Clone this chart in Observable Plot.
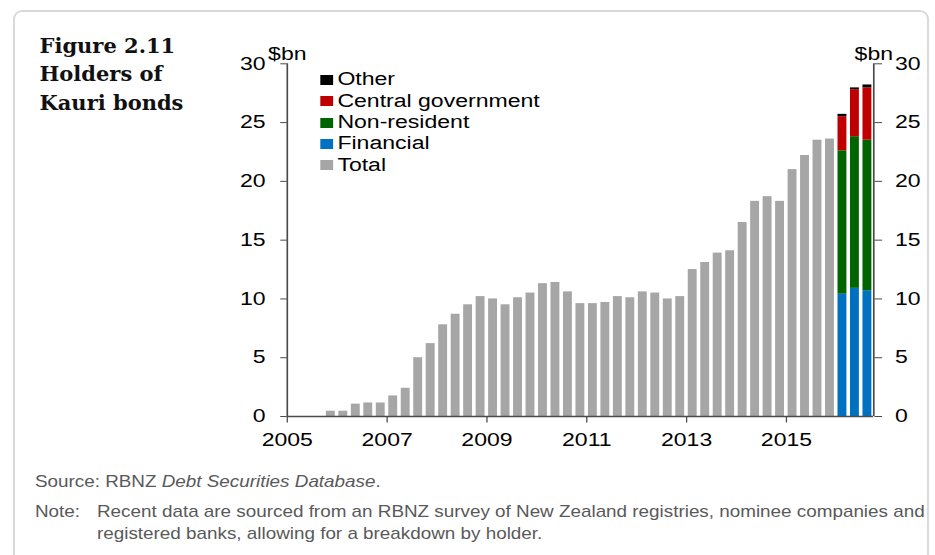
<!DOCTYPE html>
<html>
<head>
<meta charset="utf-8">
<script src="https://cdn.jsdelivr.net/npm/d3@7"></script>
<script src="https://cdn.jsdelivr.net/npm/@observablehq/plot@0.6"></script>
<style>
  html, body { margin: 0; padding: 0; background: #fff; }
  body { width: 935px; height: 555px; position: relative; overflow: hidden; font-family: "Liberation Sans", Arial, sans-serif; }
  #frame { position: absolute; left: 13px; top: 10px; width: 916px; height: 600px; border: 2px solid #d9d9d9; border-radius: 9px; box-sizing: border-box; }
  #title { position: absolute; left: 39.5px; top: 32px; font-family: "DejaVu Serif", serif; font-weight: bold; font-size: 21px; line-height: 28.3px; color: #111; }
  #chart { position: absolute; left: 200px; top: 0; width: 574px; transform: scaleX(1.28); transform-origin: 0 0; }
  #legend { position: absolute; left: 93.75px; top: 69.35px; font-size: 18px; color: #000; }
  #legend .row { display: flex; align-items: center; height: 21.3px; line-height: 21.3px; white-space: nowrap; }
  #legend .sw { width: 10.4px; height: 10px; margin-right: 3.2px; display: inline-block; }
  #notes { position: absolute; left: 35px; top: 0; width: 780px; height: 555px; transform: scaleX(1.15); transform-origin: 0 0; }
  .note { position: absolute; font-size: 16.4px; line-height: 22px; color: #595959; white-space: nowrap; }
</style>
</head>
<body>
<div id="frame"></div>
<div id="title">Figure 2.11<br>Holders of<br>Kauri bonds</div>
<div id="chart"><div id="legend"></div></div>
<div id="notes">
  <div class="note" style="left:0; top:469.6px;">Source:</div>
  <div class="note" style="left:61px; top:469.6px;">RBNZ <i>Debt Securities Database</i>.</div>
  <div class="note" style="left:0; top:499.6px;">Note:</div>
  <div class="note" style="left:53.9px; top:499.6px;">Recent data are sourced from an RBNZ survey of New Zealand registries, nominee companies and<br>registered banks, allowing for a breakdown by holder.</div>
</div>
<script>
// ---- Data ----
const totalQuarters = [
  "2005 Q4",
  "2006 Q1","2006 Q2","2006 Q3","2006 Q4",
  "2007 Q1","2007 Q2","2007 Q3","2007 Q4",
  "2008 Q1","2008 Q2","2008 Q3","2008 Q4",
  "2009 Q1","2009 Q2","2009 Q3","2009 Q4",
  "2010 Q1","2010 Q2","2010 Q3","2010 Q4",
  "2011 Q1","2011 Q2","2011 Q3","2011 Q4",
  "2012 Q1","2012 Q2","2012 Q3","2012 Q4",
  "2013 Q1","2013 Q2","2013 Q3","2013 Q4",
  "2014 Q1","2014 Q2","2014 Q3","2014 Q4",
  "2015 Q1","2015 Q2","2015 Q3","2015 Q4"
];
const totalValues = [
  0.45,
  0.45, 1.05, 1.15, 1.15,
  1.75, 2.4, 5.0, 6.2,
  7.8, 8.7, 9.5, 10.2,
  10.0, 9.5, 10.1, 10.5,
  11.3, 11.4, 10.6, 9.6,
  9.6, 9.7, 10.2, 10.1,
  10.6, 10.5, 10.0, 10.2,
  12.5, 13.1, 13.9, 14.1,
  16.5, 18.3, 18.7, 18.3,
  21.0, 22.2, 23.5, 23.6
];
const breakdownQuarters = ["2016 Q1", "2016 Q2", "2016 Q3"];
const financial   = [10.4, 10.9, 10.7];
const nonResident = [12.2, 12.9, 12.8];
const centralGov  = [2.9, 4.0, 4.45];
const other       = [0.2, 0.15, 0.25];

const holderNames  = ["Financial", "Non-resident", "Central government", "Other"];
const holderColors = ["#0070c0", "#006400", "#c00000", "#000000"];
const totalName = "Total";
const totalColor = "#a6a6a6";
const legendOrder = ["Other", "Central government", "Non-resident", "Financial", "Total"];

const xDomain = [2005, 2016.75];
const yearTicks = [2005, 2007, 2009, 2011, 2013, 2015];
const yTicks = [0, 5, 10, 15, 20, 25, 30];
const unitLabel = "$bn";

// ---- Build tables ----
const qStart = q => { const [y, qq] = q.split(" Q"); return +y + (+qq - 1) / 4; };
const totals = totalQuarters.map((q, i) => ({start: qStart(q), end: qStart(q) + 0.25, value: totalValues[i]}));
const series = [financial, nonResident, centralGov, other];
const stacked = [];
breakdownQuarters.forEach((q, i) => {
  holderNames.forEach((h, j) => {
    stacked.push({start: qStart(q), end: qStart(q) + 0.25, holder: h, value: series[j][i]});
  });
});

const axisColor = "#4a4a4a";
const chart = Plot.plot({
  width: 574,
  height: 460,
  marginLeft: 67.7,
  marginRight: 48.1,
  marginTop: 63.3,
  marginBottom: 44,
  style: {fontFamily: "'Liberation Sans', Arial, sans-serif", fontSize: "18px", color: "#000", background: "transparent", overflow: "visible"},
  x: {type: "linear", domain: xDomain, label: null},
  y: {domain: [yTicks[0], yTicks[yTicks.length - 1]], label: null},
  color: {domain: holderNames, range: holderColors},
  marks: [
    Plot.rectY(totals, {x1: "start", x2: "end", y: "value", fill: totalColor, insetLeft: 1.4, insetRight: 1.4}),
    Plot.rectY(stacked, {x1: "start", x2: "end", y: "value", fill: "holder", insetLeft: 1.4, insetRight: 1.4}),
    Plot.ruleY([yTicks[0]], {stroke: axisColor, strokeWidth: 1.3}),
    Plot.ruleX(xDomain, {y1: yTicks[0], y2: yTicks[yTicks.length - 1], stroke: axisColor, strokeWidth: 1.3}),
    Plot.axisY({anchor: "left", ticks: yTicks, tickSize: 5, tickPadding: 12, label: null, stroke: axisColor}),
    Plot.axisY({anchor: "right", ticks: yTicks, tickSize: 6, tickPadding: 10.5, label: null, stroke: axisColor}),
    Plot.axisX({anchor: "bottom", ticks: yearTicks, tickFormat: d => String(d), tickSize: 6.5, tickPadding: 10, label: null, stroke: axisColor}),
    Plot.text([unitLabel], {frameAnchor: "top-left", textAnchor: "middle", dy: -17, fill: "#000"}),
    Plot.text([unitLabel], {frameAnchor: "top-right", textAnchor: "middle", dy: -17, fill: "#000"})
  ]
});
const chartDiv = document.getElementById("chart");
chartDiv.insertBefore(chart, chartDiv.firstChild);

// legend
const legend = document.getElementById("legend");
legendOrder.forEach(name => {
  const row = document.createElement("div");
  row.className = "row";
  const sw = document.createElement("span");
  sw.className = "sw";
  const idx = holderNames.indexOf(name);
  sw.style.background = idx >= 0 ? holderColors[idx] : totalColor;
  const label = document.createElement("span");
  label.textContent = name;
  row.appendChild(sw);
  row.appendChild(label);
  legend.appendChild(row);
});
</script>
</body>
</html>
